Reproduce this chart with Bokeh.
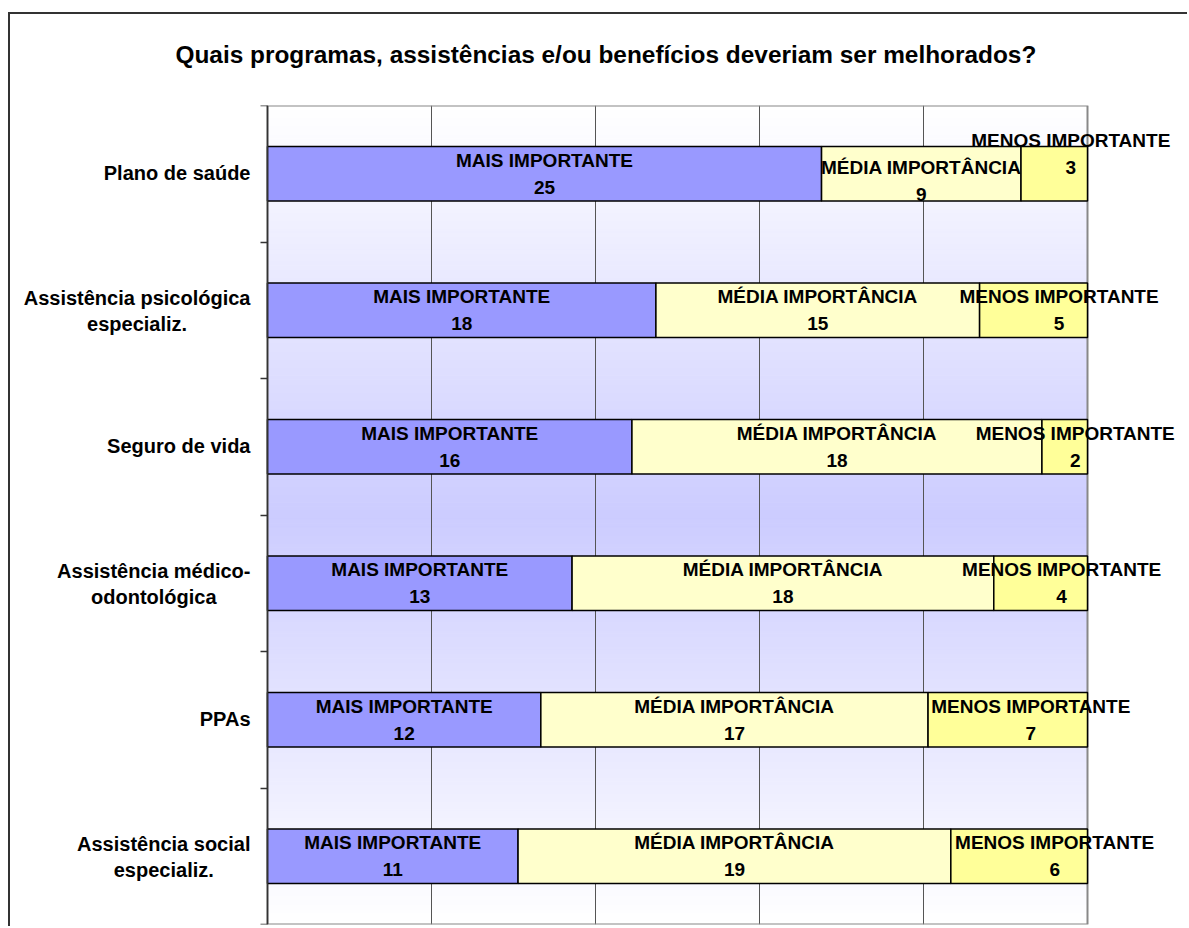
import numpy as np
from bokeh.plotting import figure
from bokeh.models import ColumnDataSource, Range1d, FixedTicker, Label, Title
from bokeh.embed import file_html
from bokeh.resources import INLINE
from bokeh.core.properties import value

# ---------------- data ----------------
title_text = "Quais programas, assistências e/ou benefícios deveriam ser melhorados?"
categories = [
    "Plano de saúde",
    "Assistência psicológica\nespecializ.",
    "Seguro de vida",
    "Assistência médico-\nodontológica",
    "PPAs",
    "Assistência social\nespecializ.",
]
series_names = ["MAIS IMPORTANTE", "MÉDIA IMPORTÂNCIA", "MENOS IMPORTANTE"]
mais = [25, 18, 16, 13, 12, 11]
media = [9, 15, 18, 18, 17, 19]
menos = [3, 5, 2, 4, 7, 6]

# ---------------- styles ----------------
colors = ["#9999ff", "#ffffcc", "#ffff99"]
FONT = "Liberation Sans"
LABEL_PX = 19
AXIS_PX = 20
# label nudges in screen px (x right, y down) mimicking Excel's label placement
mais_dx = [0, 0, 0, 0, 0, 0]
mais_dy = [0, 0, 0, 0, 0, 0]
media_dx = [0, 0, 0, 0, 0, 0]
media_dy = [7, 0, 0, 0, 0, 0]
menos_dx = [16.5, 25.5, 10.5, 21, 23, 35.5]
menos_dy = [-20, 0, 0, 0, 0, 0]

# layout (px)
W, H = 1179, 914
PLOT_LEFT = 257           # px from canvas left to the 0% line (page x = 267)
MT = 91                   # canvas top border -> plot area top at page y = 105
PLOT_W = 820              # width of the 0..100% plot area

n = len(categories)
ypos = [n - 0.5 - i for i in range(n)]
tot = [a + b + c for a, b, c in zip(mais, media, menos)]
f1 = [a / t for a, t in zip(mais, tot)]
f2 = [b / t for b, t in zip(media, tot)]
f3 = [c / t for c, t in zip(menos, tot)]

src = ColumnDataSource(dict(y=ypos, f1=f1, f2=f2, f3=f3))

p = figure(
    width=W, height=H,
    x_range=Range1d(-PLOT_LEFT / PLOT_W, (W - PLOT_LEFT) / PLOT_W), y_range=Range1d(0, n),
    output_backend="svg", toolbar_location=None,
    min_border_left=0, min_border_right=0,
    min_border_top=MT, min_border_bottom=4,
)
p.styles = {
    "margin-left": "8px", "margin-top": "12px",
    "border-left": "2px solid #333333", "border-top": "2px solid #333333",
}
p.background_fill_color = "white"
p.border_fill_color = "white"
p.outline_line_color = None

# spacer between the title and the plot area
p.add_layout(Title(text=" ", text_font_size="1px", standoff=33), "above")

# title
p.title.text = title_text
p.title.text_font = FONT
p.title.text_font_style = "bold"
p.title.text_font_size = "24.4px"
p.title.text_color = "black"
p.title.align = "left"
p.title.offset = 165
p.title.vertical_align = "top"
p.title.standoff = 0

# gradient background (white -> lavender -> white)
N = 200
edges = np.linspace(0, n, N + 1)
mids = (edges[:-1] + edges[1:]) / 2
t = np.abs(mids - n / 2) / (n / 2)
c0 = np.array([204, 204, 255])
c1 = np.array([255, 255, 255])
bg_cols = ["#%02x%02x%02x" % tuple(int(round(v)) for v in (c0 + (c1 - c0) * tt)) for tt in t]
p.quad(left=0, right=1, bottom=edges[:-1], top=edges[1:],
       fill_color=bg_cols, line_color=bg_cols, line_width=1, level="image")

# grid
p.xaxis.visible = False
p.xgrid.ticker = FixedTicker(ticks=[0.2, 0.4, 0.6, 0.8])
p.xgrid.grid_line_color = "#555555"
p.xgrid.grid_line_width = 1
p.ygrid.visible = False

# plot-area border
p.quad(left=0, right=1, bottom=0, top=n, fill_color=None,
       line_color="#888888", line_width=2)

# bars
p.hbar_stack(["f1", "f2", "f3"], y="y", height=0.4, source=src,
             fill_color=colors, line_color="black", line_width=1.5)

# y axis at the 0% line: axis line and category-boundary ticks
ya = p.yaxis[0]
ya.fixed_location = 0
ya.ticker = FixedTicker(ticks=[], minor_ticks=list(range(n + 1)))
ya.minor_tick_out = 7
ya.minor_tick_in = 0
ya.minor_tick_line_color = "#333333"
ya.minor_tick_line_width = 1.5
ya.axis_line_color = "#333333"
ya.axis_line_width = 1.5


def text_width(s, size):
    try:
        from PIL import ImageFont
        f = ImageFont.truetype("LiberationSans-Bold.ttf", size)
        return f.getlength(s)
    except Exception:
        return 0.58 * size * len(s)


# category labels (lines centred, block right-aligned 17px left of the axis)
for yc, cat in zip(ypos, categories):
    lines = cat.split("\n")
    wmax = max(text_width(s, AXIS_PX) for s in lines)
    offs = [-0.5] if len(lines) == 1 else [-12.5, 14]
    for s, off in zip(lines, offs):
        p.add_layout(Label(x=0, y=yc, x_offset=-17 - wmax / 2, y_offset=-off, text=s,
                           text_align="center", text_baseline="alphabetic",
                           text_font=FONT, text_font_style="bold",
                           text_font_size=f"{AXIS_PX}px", text_color="black"))

# data labels (two lines each)
lx, ly, ltxt, ldx, ldy = [], [], [], [], []
for i in range(n):
    starts = [0, f1[i], f1[i] + f2[i]]
    fr = [f1[i], f2[i], f3[i]]
    vals = [mais[i], media[i], menos[i]]
    dxs = [mais_dx[i], media_dx[i], menos_dx[i]]
    dys = [mais_dy[i], media_dy[i], menos_dy[i]]
    for k in range(3):
        for txt, base in ((series_names[k], -13.7), (str(vals[k]), 13.3)):
            lx.append(starts[k] + fr[k] / 2)
            ly.append(ypos[i])
            ltxt.append(txt)
            ldx.append(dxs[k])
            ldy.append(dys[k] + base)
lab_src = ColumnDataSource(dict(x=lx, y=ly, text=ltxt, dx=ldx, dy=ldy))
p.text(x="x", y="y", text="text", x_offset="dx", y_offset="dy", source=lab_src,
       text_align="center", text_baseline="alphabetic",
       text_font=value(FONT), text_font_style="bold", text_font_size=f"{LABEL_PX}px",
       text_color="black")

open("out.html", "w").write(file_html(p, INLINE))
